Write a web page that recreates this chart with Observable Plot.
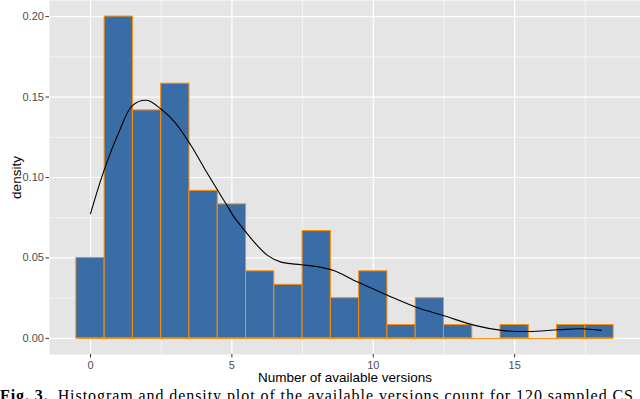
<!DOCTYPE html>
<html>
<head>
<meta charset="utf-8">
<script src="https://cdn.jsdelivr.net/npm/d3@7"></script>
<script src="https://cdn.jsdelivr.net/npm/@observablehq/plot@0.6"></script>
<style>
  html, body { margin: 0; padding: 0; background: #fff; overflow: hidden; }
  #wrap { position: relative; width: 640px; height: 399px; overflow: hidden; }
  #chart svg { display: block; font-family: "Liberation Sans", Arial, sans-serif; }
  g[aria-label="y-axis tick label"] text, g[aria-label="x-axis tick label"] text { font-size: 11px; }
  g[aria-label="y-axis label"] text, g[aria-label="x-axis label"] text { font-size: 13.5px; fill: #000; }
  #cap { position: absolute; left: 0; top: 383px; }
</style>
</head>
<body>
<div id="wrap">
  <div id="chart"></div>
  <svg id="cap" width="640" height="22"></svg>
</div>
<script>
// Histogram bins (centres) and densities
const binCenters = [0, 1, 2, 3, 4, 5, 6, 7, 8, 9, 10, 11, 12, 13, 14, 15, 16, 17, 18];
const densities  = [0.05, 0.2, 0.1417, 0.1583, 0.0917, 0.0833, 0.0417, 0.0333, 0.0667, 0.025,
                    0.0417, 0.0083, 0.025, 0.0083, 0, 0.0083, 0, 0.0083, 0.0083];

// Kernel density curve
const curveX = [0, 0.47, 1.0, 1.48, 1.99, 2.48, 3.0, 3.55, 4.05, 4.55, 4.79, 5.08, 5.5, 5.79,
                6.26, 6.74, 7.45, 8.04, 8.6, 9.45, 10.52, 11.58, 12.53, 13.59, 14.54, 15.49,
                16.55, 17.38, 18.06];
const curveY = [0.0775, 0.104, 0.128, 0.1447, 0.148, 0.1427, 0.134, 0.12, 0.105, 0.0905, 0.0837,
                0.0754, 0.066, 0.0598, 0.0516, 0.0474, 0.0458, 0.0445, 0.0422, 0.035, 0.0267,
                0.019, 0.0139, 0.0081, 0.005, 0.0043, 0.0054, 0.006, 0.005];

const xMajor = [0, 5, 10, 15];
const xMinor = [2.5, 7.5, 12.5, 17.5];
const yMajor = [0, 0.05, 0.10, 0.15, 0.20];
const yMinor = [0.025, 0.075, 0.125, 0.175];

const xTitle = "Number of available versions";
const yTitle = "density";

const bars = binCenters.map((c, i) => ({x1: c - 0.5, x2: c + 0.5, density: densities[i]}));
const curve = curveX.map((x, i) => ({x, y: curveY[i]}));

const chart = Plot.plot({
  width: 640,
  height: 386,
  marginLeft: 49,
  marginRight: 0,
  marginTop: 0,
  marginBottom: 32,
  x: {domain: [-1.45, 19.45]},
  y: {domain: [-0.01, 0.21]},
  marks: [
    Plot.frame({fill: "#e5e5e5", stroke: null}),
    Plot.ruleX(xMinor, {stroke: "#fff", strokeWidth: 0.6}),
    Plot.ruleY(yMinor, {stroke: "#fff", strokeWidth: 0.6}),
    Plot.ruleX(xMajor, {stroke: "#fff", strokeWidth: 1.2}),
    Plot.ruleY(yMajor, {stroke: "#fff", strokeWidth: 1.2}),
    Plot.rectY(bars, {x1: "x1", x2: "x2", y1: 0, y2: "density", fill: "#3a6da6", stroke: "#ff8c00", strokeWidth: 1}),
    Plot.ruleY([0], {x1: bars[0].x1, x2: bars[bars.length - 1].x2, stroke: "#ff8c00", strokeWidth: 1}),
    Plot.line(curve, {x: "x", y: "y", curve: "catmull-rom", stroke: "#000", strokeWidth: 1.1}),
    Plot.axisY({ticks: yMajor, tickFormat: d3.format(".2f"), tickSize: 3.5, tickPadding: 2,
                stroke: "#333", fill: "#4d4d4d", label: yTitle, labelAnchor: "center",
                labelArrow: "none", labelOffset: 38}),
    Plot.axisX({ticks: xMajor, tickFormat: d3.format("d"), tickSize: 3.5, tickPadding: 3,
                stroke: "#333", fill: "#4d4d4d", label: xTitle, labelAnchor: "center",
                labelArrow: "none", labelOffset: 27})
  ]
});
document.getElementById("chart").appendChild(chart);

// Figure caption (cut off at the bottom of the picture)
const cap = d3.select("#cap");
const t = cap.append("text")
  .attr("x", 0).attr("y", 18)
  .attr("textLength", 633).attr("lengthAdjust", "spacing")
  .attr("font-family", "'Liberation Serif', 'DejaVu Serif', serif")
  .attr("font-size", 16).attr("fill", "#000");
t.append("tspan").attr("font-weight", "bold").text("Fig. 3.");
t.append("tspan").text("\u2002Histogram and density plot of the available versions count for 120 sampled CS");
</script>
</body>
</html>
